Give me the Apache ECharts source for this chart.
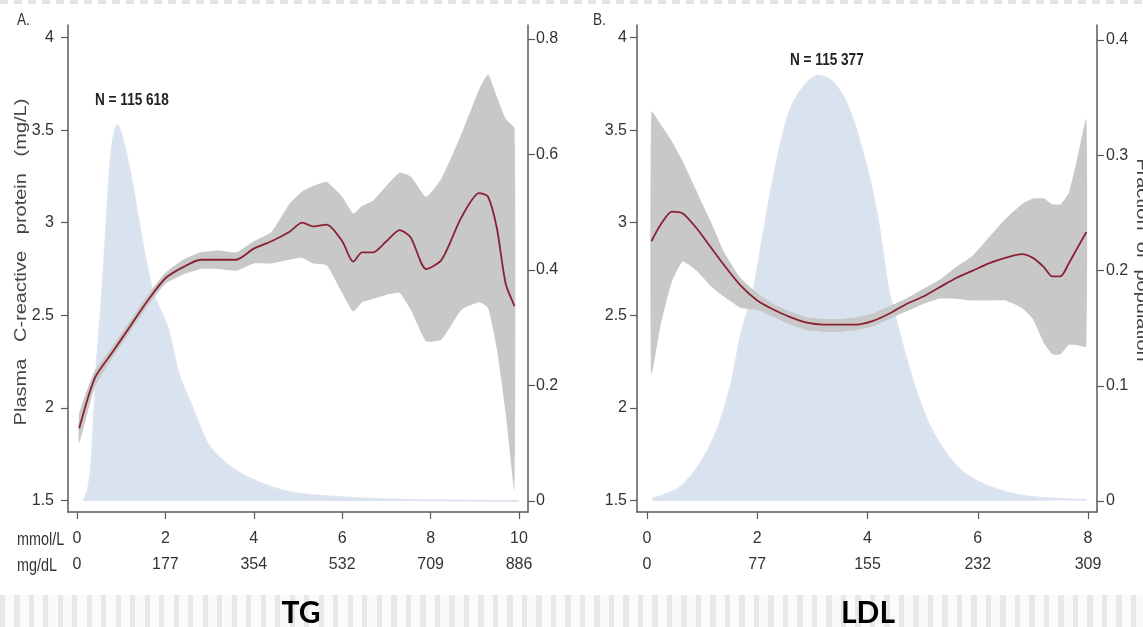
<!DOCTYPE html>
<html>
<head>
<meta charset="utf-8">
<script src="https://cdn.jsdelivr.net/npm/echarts@6/dist/echarts.min.js"></script>
<style>
    html, body { margin: 0; padding: 0; background: #fff; }
    #main {
        width: 1143px; height: 627px;
        background:
            repeating-linear-gradient(90deg, #e8e8e8 0 5px, #fafafa 5px 14.5px) left bottom / 100% 32px no-repeat,
            repeating-linear-gradient(90deg, #e4e4e4 0 8px, #ffffff 8px 14px) left top / 100% 4px no-repeat,
            #fff;
    }
</style>
</head>
<body>
<div id="main"></div>
<script>
// TG panel: spline fit of CRP (mg/L) and its 95% band, x in mmol/L
var tgX   = [0.05, 0.4, 0.8, 1.2, 1.6, 2.0, 2.4, 2.8, 3.2, 3.6, 4.0, 4.4, 4.8, 5.1, 5.35, 5.65, 6.0, 6.25, 6.45, 6.7, 7.0, 7.3, 7.55, 7.9, 8.25, 8.7, 9.1, 9.3, 9.5, 9.7, 9.9];
var tgFit = [1.89, 2.16, 2.30, 2.44, 2.58, 2.70, 2.76, 2.80, 2.80, 2.80, 2.86, 2.90, 2.95, 3.00, 2.98, 2.99, 2.90, 2.79, 2.84, 2.84, 2.90, 2.96, 2.92, 2.75, 2.80, 3.03, 3.16, 3.14, 2.97, 2.67, 2.55];
var tgLo  = [1.81, 2.11, 2.27, 2.41, 2.55, 2.67, 2.72, 2.75, 2.75, 2.74, 2.78, 2.78, 2.80, 2.81, 2.78, 2.77, 2.62, 2.52, 2.57, 2.59, 2.61, 2.62, 2.53, 2.36, 2.37, 2.53, 2.57, 2.54, 2.32, 1.97, 1.56];
var tgHi  = [1.97, 2.20, 2.33, 2.47, 2.61, 2.73, 2.80, 2.84, 2.85, 2.84, 2.90, 2.95, 3.10, 3.17, 3.20, 3.22, 3.14, 3.05, 3.09, 3.12, 3.20, 3.27, 3.25, 3.14, 3.24, 3.48, 3.72, 3.80, 3.68, 3.56, 3.51];
// TG fraction of population
var tgDensX = [0.15, 0.25, 0.33, 0.45, 0.57, 0.66, 0.75, 0.85, 0.92, 1.02, 1.2, 1.45, 1.72, 2.05, 2.3, 2.62, 2.95, 3.36, 4.0, 4.84, 6.07, 7.3, 8.5, 10];
var tgDens  = [0, 0.02, 0.07, 0.24, 0.36, 0.47, 0.58, 0.64, 0.65, 0.63, 0.57, 0.46, 0.36, 0.30, 0.22, 0.16, 0.10, 0.066, 0.036, 0.015, 0.006, 0.002, 0.001, 0];

// LDL panel
var ldlX   = [0.08, 0.25, 0.45, 0.65, 0.9, 1.15, 1.4, 1.7, 2.0, 2.3, 2.6, 2.9, 3.2, 3.5, 3.8, 4.1, 4.4, 4.7, 5.0, 5.3, 5.6, 5.9, 6.2, 6.5, 6.8, 7.0, 7.2, 7.35, 7.5, 7.65, 7.8, 7.97];
var ldlFit = [2.90, 2.99, 3.06, 3.05, 2.97, 2.87, 2.77, 2.66, 2.58, 2.53, 2.49, 2.46, 2.45, 2.45, 2.45, 2.47, 2.51, 2.56, 2.60, 2.65, 2.70, 2.74, 2.78, 2.81, 2.83, 2.81, 2.76, 2.71, 2.71, 2.78, 2.86, 2.95];
var ldlLo  = [2.18, 2.45, 2.68, 2.79, 2.74, 2.66, 2.60, 2.54, 2.53, 2.49, 2.45, 2.42, 2.41, 2.41, 2.42, 2.44, 2.48, 2.52, 2.56, 2.59, 2.59, 2.58, 2.58, 2.58, 2.54, 2.48, 2.35, 2.29, 2.29, 2.34, 2.34, 2.33];
var ldlHi  = [3.60, 3.53, 3.44, 3.33, 3.17, 3.01, 2.84, 2.70, 2.62, 2.56, 2.52, 2.49, 2.48, 2.48, 2.49, 2.51, 2.55, 2.59, 2.64, 2.69, 2.76, 2.82, 2.92, 3.02, 3.10, 3.13, 3.13, 3.10, 3.10, 3.16, 3.34, 3.56];
var ldlDensX = [0.1, 0.3, 0.6, 0.93, 1.26, 1.52, 1.72, 1.92, 2.12, 2.32, 2.58, 2.85, 3.11, 3.38, 3.64, 3.91, 4.17, 4.37, 4.57, 4.83, 5.1, 5.43, 5.76, 6.23, 6.89, 7.97];
var ldlDens  = [0.002, 0.005, 0.012, 0.03, 0.06, 0.10, 0.147, 0.18, 0.234, 0.286, 0.337, 0.36, 0.369, 0.363, 0.343, 0.303, 0.249, 0.186, 0.147, 0.103, 0.068, 0.041, 0.024, 0.012, 0.004, 0.001];

// ticks
var crpTicks = [1.5, 2, 2.5, 3, 3.5, 4];
var tgTicks = [0, 2, 4, 6, 8, 10];
var tgMgdl = ['0', '177', '354', '532', '709', '886'];
var ldlTicks = [0, 2, 4, 6, 8];
var ldlMgdl = ['0', '77', '155', '232', '309'];
var tgFracTicks = [0, 0.2, 0.4, 0.6, 0.8];
var ldlFracTicks = [0, 0.1, 0.2, 0.3, 0.4];

var FONT = "'Liberation Sans', Arial, sans-serif";
var AXIS_COLOR = '#5a5a5a';
var TEXT_COLOR = '#333';

function zip(xs, ys) {
    var out = [];
    for (var i = 0; i < xs.length; i++) out.push([xs[i], ys[i]]);
    return out;
}

function xMain(grid, min, max, ticks) {
    return {
        gridIndex: grid, type: 'value', position: 'bottom', min: min, max: max,
        axisLine: {show: true, onZero: false, lineStyle: {color: AXIS_COLOR, width: 1.5}},
        axisTick: {show: true, customValues: ticks, length: 7, lineStyle: {color: AXIS_COLOR, width: 1.2}},
        axisLabel: {customValues: ticks, margin: 19, color: TEXT_COLOR, fontSize: 16, fontFamily: FONT},
        splitLine: {show: false}
    };
}
function xSecond(grid, min, max, ticks, names) {
    return {
        gridIndex: grid, type: 'value', position: 'bottom', offset: 26, min: min, max: max,
        axisLine: {show: false}, axisTick: {show: false}, splitLine: {show: false},
        axisLabel: {
            customValues: ticks, margin: 19, color: TEXT_COLOR, fontSize: 16, fontFamily: FONT,
            formatter: function (v) { return names[ticks.indexOf(v)]; }
        }
    };
}
function yAxisDef(grid, pos, min, max, ticks, margin) {
    return {
        gridIndex: grid, type: 'value', position: pos, min: min, max: max,
        axisLine: {show: true, onZero: false, lineStyle: {color: AXIS_COLOR, width: 1.5}},
        axisTick: {show: true, customValues: ticks, length: 7, lineStyle: {color: AXIS_COLOR, width: 1.2}},
        axisLabel: {customValues: ticks, margin: margin, color: TEXT_COLOR, fontSize: 16, fontFamily: FONT},
        splitLine: {show: false}
    };
}

// confidence band drawn as one polygon, upper edge then lower edge back
function bandSeries(xi, yi, xs, lo, hi) {
    var rows = [];
    for (var i = 0; i < xs.length; i++) rows.push([xs[i], lo[i], hi[i]]);
    return {
        type: 'custom', xAxisIndex: xi, yAxisIndex: yi, data: rows, z: 5,
        encode: {x: 0, y: [1, 2]},
        renderItem: function (params, api) {
            if (params.dataIndex !== 0) return null;
            var pts = [];
            for (var a = 0; a < rows.length; a++) pts.push(api.coord([rows[a][0], rows[a][2]]));
            for (var b = rows.length - 1; b >= 0; b--) pts.push(api.coord([rows[b][0], rows[b][1]]));
            return {type: 'polygon', shape: {points: pts, smooth: 0.15}, style: {fill: '#c8c8c8'}};
        }
    };
}

function panelSeries(xi, yiL, yiR, xs, fit, lo, hi, dx, dy) {
    return [{
        type: 'line', xAxisIndex: xi, yAxisIndex: yiR, z: 1,
        data: zip(dx, dy), smooth: 0.3, showSymbol: false, symbol: 'none',
        lineStyle: {color: '#dde4ef', width: 2},
        areaStyle: {color: '#d9e2ef', opacity: 1}
    },
    bandSeries(xi, yiL, xs, lo, hi),
    {
        type: 'line', xAxisIndex: xi, yAxisIndex: yiL, z: 8,
        data: zip(xs, fit), smooth: 0.25, symbol: 'none',
        lineStyle: {color: '#8a2234', width: 1.8}
    }];
}

var option = {
    animation: false,
    grid: [
        {left: 68, top: 25, width: 460, height: 487},
        {left: 637, top: 25, width: 460, height: 487}
    ],
    xAxis: [
        xMain(0, -0.204, 10.204, tgTicks),
        xSecond(0, -0.204, 10.204, tgTicks, tgMgdl),
        xMain(1, -0.181, 8.163, ldlTicks),
        xSecond(1, -0.181, 8.163, ldlTicks, ldlMgdl)
    ],
    yAxis: [
        yAxisDef(0, 'left', 1.4379, 4.0675, crpTicks, 14),
        yAxisDef(0, 'right', -0.019, 0.8242, tgFracTicks, 8),
        yAxisDef(1, 'left', 1.4379, 4.0675, crpTicks, 10),
        yAxisDef(1, 'right', -0.00954, 0.41302, ldlFracTicks, 9)
    ],
    series: []
        .concat(panelSeries(0, 0, 1, tgX, tgFit, tgLo, tgHi, tgDensX, tgDens))
        .concat(panelSeries(2, 2, 3, ldlX, ldlFit, ldlLo, ldlHi, ldlDensX, ldlDens)),
    graphic: [
        {type: 'text', x: 17, y: 13, scaleX: 0.85, style: {text: 'A.', font: '16px ' + FONT, fill: TEXT_COLOR}},
        {type: 'text', x: 593, y: 13, scaleX: 0.85, style: {text: 'B.', font: '16px ' + FONT, fill: TEXT_COLOR}},
        {type: 'text', x: 95, y: 100, scaleX: 0.8, style: {text: 'N = 115 618', font: 'bold 17px ' + FONT, fill: '#222', verticalAlign: 'middle'}},
        {type: 'text', x: 790, y: 60, scaleX: 0.8, style: {text: 'N = 115 377', font: 'bold 17px ' + FONT, fill: '#222', verticalAlign: 'middle'}},
        {type: 'text', x: 17, y: 540, scaleX: 0.8, style: {text: 'mmol/L', font: '18px ' + FONT, fill: TEXT_COLOR, verticalAlign: 'middle'}},
        {type: 'text', x: 17, y: 566, scaleX: 0.8, style: {text: 'mg/dL', font: '18px ' + FONT, fill: TEXT_COLOR, verticalAlign: 'middle'}},
        {type: 'text', x: 22, y: 262, rotation: Math.PI / 2, scaleY: 0.8,
            style: {text: 'Plasma   C-reactive   protein   (mg/L)', font: '20px ' + FONT, fill: '#444', align: 'center', verticalAlign: 'middle'}},
        {type: 'text', x: 1141, y: 260, rotation: -Math.PI / 2, scaleY: 0.8,
            style: {text: 'Fraction  of  population', font: '20px ' + FONT, fill: '#444', align: 'center', verticalAlign: 'middle'}},
        {type: 'text', x: 301, y: 613, style: {text: 'TG', font: 'bold 30px Lato, "Open Sans", sans-serif', fill: '#000', align: 'center', verticalAlign: 'middle'}},
        {type: 'text', x: 868, y: 613, style: {text: 'LDL', font: 'bold 30px Lato, "Open Sans", sans-serif', fill: '#000', align: 'center', verticalAlign: 'middle'}}
    ]
};

var myChart = echarts.init(document.getElementById('main'));
myChart.setOption(option);
</script>
</body>
</html>
